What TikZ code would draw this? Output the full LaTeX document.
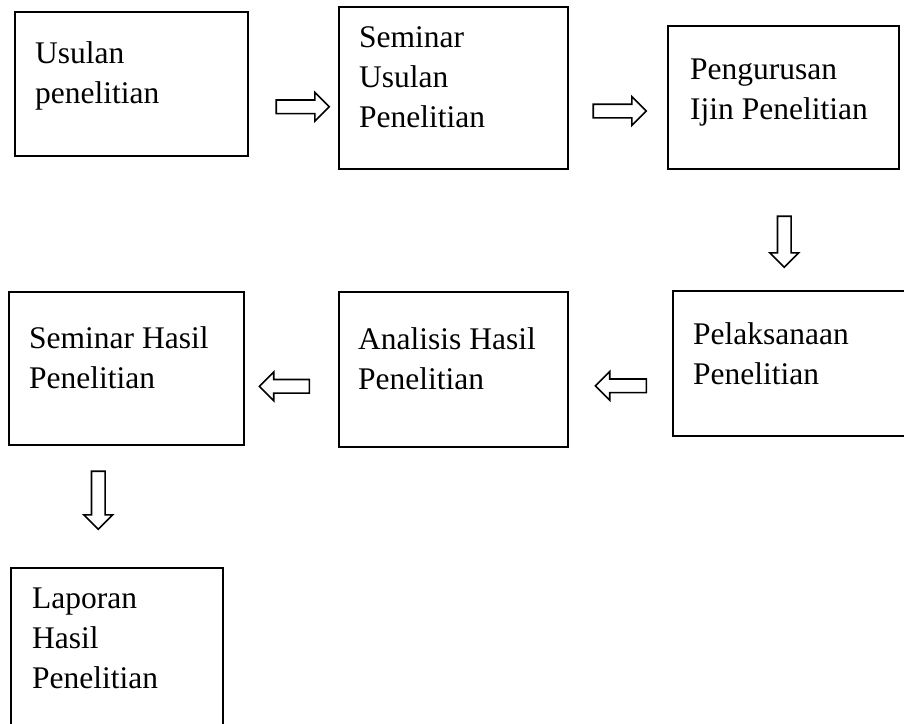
\documentclass[tikz,border=0pt]{standalone}
\usepackage{fontspec}
\setmainfont{Liberation Serif}
\usetikzlibrary{shapes.arrows}

\begin{document}
\begin{tikzpicture}[x=1pt,y=-1pt]
	\tikzstyle{box} = [draw=black, line width=1.6pt, inner sep=0pt, anchor=north west]
	\tikzstyle{txt} = [align=left, inner sep=0pt, anchor=base west, font=\fontsize{31.5}{40}\selectfont]
	\tikzstyle{fatarrow} = [single arrow, draw=black, line width=1.6pt, inner xsep=0pt, inner ysep=6pt, single arrow head extend=7.5pt]
	\path[use as bounding box, clip] (0,0) rectangle (904,723);
		\node[box, minimum width=233pt, minimum height=144pt] (usul) at (14,11) {};
		\node[box, minimum width=229pt, minimum height=162pt] (semu) at (338,6) {};
		\node[box, minimum width=231pt, minimum height=143pt] (ijin) at (667,25) {};
		\node[box, minimum width=236pt, minimum height=145pt] (laks) at (672,290) {};
		\node[box, minimum width=229pt, minimum height=155pt] (anal) at (338,291) {};
		\node[box, minimum width=235pt, minimum height=153pt] (semh) at (8,291) {};
		\node[box, minimum width=212pt, minimum height=170pt] (lap) at (10,567) {};
		\node[txt] (tusul) at (35,103) {Usulan\\penelitian};
		\node[txt] (tsemu) at (359,127.5) {Seminar\\Usulan\\Penelitian};
		\node[txt] (tijin) at (690,119) {Pengurusan\\Ijin Penelitian};
		\node[txt] (tlaks) at (693,384) {Pelaksanaan\\Penelitian};
		\node[txt] (tanal) at (358,389) {Analisis Hasil\\Penelitian};
		\node[txt] (tsemh) at (29,388) {Seminar Hasil\\Penelitian};
		\node[txt] (tlap) at (32,688) {Laporan\\Hasil\\Penelitian};
	\path (usul.east) -- node[fatarrow, minimum height=53pt, xshift=6pt, yshift=-21pt] (a1) {} (semu.west);
	\path (semu.east) -- node[fatarrow, minimum height=53pt, xshift=-1.5pt, yshift=-18.5pt] (a2) {} (ijin.west);
	\path (ijin.south) -- node[fatarrow, minimum height=51pt, xshift=-2.75pt, yshift=-8.5pt, rotate=-90] (a3) {} (laks.north);
	\path (laks.west) -- node[fatarrow, minimum height=51pt, xshift=4pt, yshift=-19.5pt, rotate=180] (a4) {} (anal.east);
	\path (anal.west) -- node[fatarrow, minimum height=50pt, xshift=-3.5pt, yshift=-17.5pt, rotate=180] (a5) {} (semh.east);
	\path (semh.south) -- node[fatarrow, minimum height=58pt, xshift=-23.25pt, yshift=9.5pt, rotate=-90] (a6) {} (lap.north);
\end{tikzpicture}
\end{document}
